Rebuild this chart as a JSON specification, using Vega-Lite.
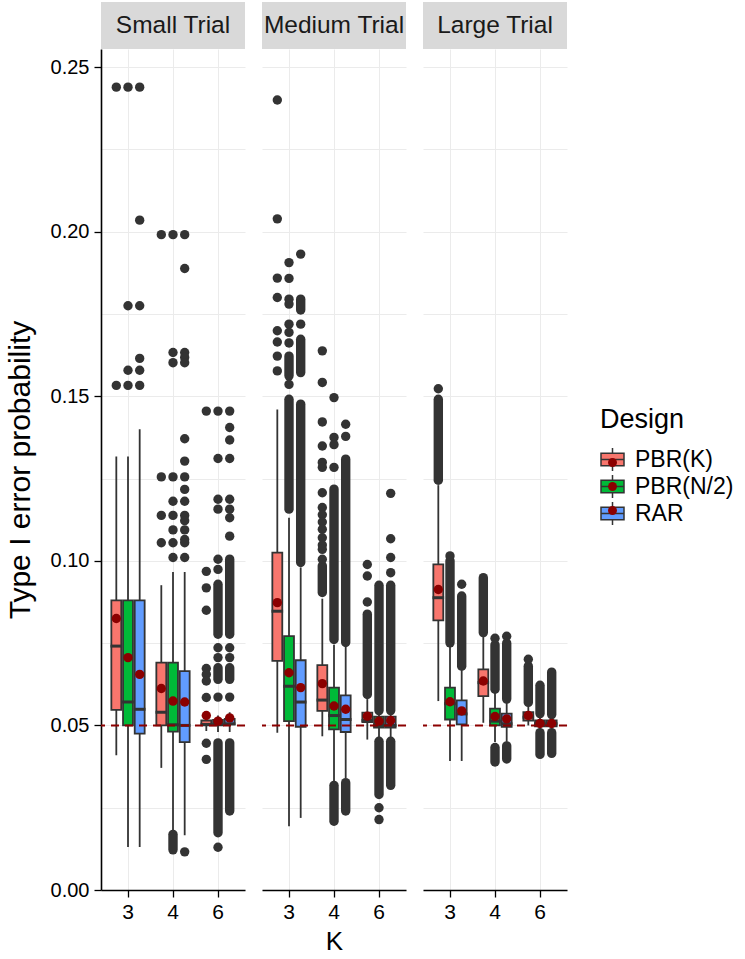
{
  "$schema": "https://vega.github.io/schema/vega-lite/v6.json",
  "background": "white",
  "padding": {"left": 5, "top": 2, "right": 2, "bottom": 2},
  "config": {
    "font": "Liberation Sans",
    "view": {"stroke": null},
    "axis": {"labelFont": "Liberation Sans", "titleFont": "Liberation Sans", "labelColor": "#000000", "titleColor": "#000000", "titleFontWeight": "normal", "gridColor": "#EBEBEB", "gridWidth": 1, "tickColor": "#000000", "domainColor": "#000000"},
    "legend": {"titleFont": "Liberation Sans", "labelFont": "Liberation Sans", "titleFontSize": 27, "titleFontWeight": "normal", "titleColor": "#000000", "labelFontSize": 23, "labelColor": "#000000", "symbolSize": 529, "symbolStrokeColor": "#333333", "symbolStrokeWidth": 1.5, "symbolOpacity": 1, "rowPadding": -4, "labelOffset": 10, "titlePadding": 13, "padding": 0}
  },
  "datasets": {
    "boxes": [
      {"trial": "Small Trial", "K": "3", "Design": "PBR(K)", "lw": 0.0409, "q1": 0.0547, "med": 0.0741, "q3": 0.088, "uw": 0.1317, "mean": 0.0825},
      {"trial": "Small Trial", "K": "3", "Design": "PBR(N/2)", "lw": 0.0131, "q1": 0.05, "med": 0.0571, "q3": 0.088, "uw": 0.1317, "mean": 0.0706},
      {"trial": "Small Trial", "K": "3", "Design": "RAR", "lw": 0.0131, "q1": 0.0475, "med": 0.0549, "q3": 0.088, "uw": 0.14, "mean": 0.0655},
      {"trial": "Small Trial", "K": "4", "Design": "PBR(K)", "lw": 0.0371, "q1": 0.05, "med": 0.054, "q3": 0.0691, "uw": 0.0926, "mean": 0.0612},
      {"trial": "Small Trial", "K": "4", "Design": "PBR(N/2)", "lw": 0.0174, "q1": 0.0481, "med": 0.0502, "q3": 0.0691, "uw": 0.0966, "mean": 0.0574},
      {"trial": "Small Trial", "K": "4", "Design": "RAR", "lw": 0.0166, "q1": 0.0449, "med": 0.05, "q3": 0.0665, "uw": 0.0966, "mean": 0.0571},
      {"trial": "Small Trial", "K": "6", "Design": "PBR(K)", "lw": 0.0483, "q1": 0.05, "med": 0.0503, "q3": 0.0515, "uw": 0.053, "mean": 0.053},
      {"trial": "Small Trial", "K": "6", "Design": "PBR(N/2)", "lw": 0.048, "q1": 0.05, "med": 0.0503, "q3": 0.0517, "uw": 0.053, "mean": 0.0513},
      {"trial": "Small Trial", "K": "6", "Design": "RAR", "lw": 0.048, "q1": 0.0503, "med": 0.0505, "q3": 0.052, "uw": 0.054, "mean": 0.0523},
      {"trial": "Medium Trial", "K": "3", "Design": "PBR(K)", "lw": 0.0478, "q1": 0.0696, "med": 0.0847, "q3": 0.1025, "uw": 0.146, "mean": 0.0873},
      {"trial": "Medium Trial", "K": "3", "Design": "PBR(N/2)", "lw": 0.0194, "q1": 0.0513, "med": 0.0619, "q3": 0.0771, "uw": 0.1131, "mean": 0.066},
      {"trial": "Medium Trial", "K": "3", "Design": "RAR", "lw": 0.0219, "q1": 0.0496, "med": 0.0571, "q3": 0.0698, "uw": 0.098, "mean": 0.0615},
      {"trial": "Medium Trial", "K": "4", "Design": "PBR(K)", "lw": 0.0467, "q1": 0.0544, "med": 0.0577, "q3": 0.0683, "uw": 0.0885, "mean": 0.0627},
      {"trial": "Medium Trial", "K": "4", "Design": "PBR(N/2)", "lw": 0.033, "q1": 0.0488, "med": 0.053, "q3": 0.0615, "uw": 0.0745, "mean": 0.0559},
      {"trial": "Medium Trial", "K": "4", "Design": "RAR", "lw": 0.034, "q1": 0.048, "med": 0.0518, "q3": 0.0591, "uw": 0.0745, "mean": 0.0549},
      {"trial": "Medium Trial", "K": "6", "Design": "PBR(K)", "lw": 0.0457, "q1": 0.051, "med": 0.0515, "q3": 0.0539, "uw": 0.058, "mean": 0.0528},
      {"trial": "Medium Trial", "K": "6", "Design": "PBR(N/2)", "lw": 0.046, "q1": 0.0493, "med": 0.05, "q3": 0.0527, "uw": 0.054, "mean": 0.0513},
      {"trial": "Medium Trial", "K": "6", "Design": "RAR", "lw": 0.046, "q1": 0.0493, "med": 0.05, "q3": 0.0527, "uw": 0.054, "mean": 0.0515},
      {"trial": "Large Trial", "K": "3", "Design": "PBR(K)", "lw": 0.0574, "q1": 0.0819, "med": 0.0888, "q3": 0.0989, "uw": 0.123, "mean": 0.0913},
      {"trial": "Large Trial", "K": "3", "Design": "PBR(N/2)", "lw": 0.0392, "q1": 0.0518, "med": 0.0566, "q3": 0.0615, "uw": 0.074, "mean": 0.0572},
      {"trial": "Large Trial", "K": "3", "Design": "RAR", "lw": 0.0392, "q1": 0.0503, "med": 0.0535, "q3": 0.0576, "uw": 0.067, "mean": 0.0544},
      {"trial": "Large Trial", "K": "4", "Design": "PBR(K)", "lw": 0.0508, "q1": 0.0589, "med": 0.063, "q3": 0.067, "uw": 0.0775, "mean": 0.0635},
      {"trial": "Large Trial", "K": "4", "Design": "PBR(N/2)", "lw": 0.045, "q1": 0.05, "med": 0.0513, "q3": 0.0551, "uw": 0.0605, "mean": 0.0527},
      {"trial": "Large Trial", "K": "4", "Design": "RAR", "lw": 0.045, "q1": 0.0496, "med": 0.0505, "q3": 0.0536, "uw": 0.0575, "mean": 0.052},
      {"trial": "Large Trial", "K": "6", "Design": "PBR(K)", "lw": 0.05, "q1": 0.0515, "med": 0.0525, "q3": 0.054, "uw": 0.0565, "mean": 0.053},
      {"trial": "Large Trial", "K": "6", "Design": "PBR(N/2)", "lw": 0.0485, "q1": 0.0497, "med": 0.0505, "q3": 0.0515, "uw": 0.053, "mean": 0.0506},
      {"trial": "Large Trial", "K": "6", "Design": "RAR", "lw": 0.0485, "q1": 0.0497, "med": 0.0505, "q3": 0.0515, "uw": 0.053, "mean": 0.0506}
    ],
    "outliers": [
      {"trial": "Small Trial", "K": "3", "Design": "PBR(K)", "value": 0.2439},
      {"trial": "Small Trial", "K": "3", "Design": "PBR(K)", "value": 0.1533},
      {"trial": "Small Trial", "K": "3", "Design": "PBR(N/2)", "value": 0.2439},
      {"trial": "Small Trial", "K": "3", "Design": "PBR(N/2)", "value": 0.1775},
      {"trial": "Small Trial", "K": "3", "Design": "PBR(N/2)", "value": 0.1579},
      {"trial": "Small Trial", "K": "3", "Design": "PBR(N/2)", "value": 0.1533},
      {"trial": "Small Trial", "K": "3", "Design": "RAR", "value": 0.2439},
      {"trial": "Small Trial", "K": "3", "Design": "RAR", "value": 0.2035},
      {"trial": "Small Trial", "K": "3", "Design": "RAR", "value": 0.1775},
      {"trial": "Small Trial", "K": "3", "Design": "RAR", "value": 0.1615},
      {"trial": "Small Trial", "K": "3", "Design": "RAR", "value": 0.1579},
      {"trial": "Small Trial", "K": "3", "Design": "RAR", "value": 0.1533},
      {"trial": "Small Trial", "K": "4", "Design": "PBR(K)", "value": 0.1991},
      {"trial": "Small Trial", "K": "4", "Design": "PBR(K)", "value": 0.1255},
      {"trial": "Small Trial", "K": "4", "Design": "PBR(K)", "value": 0.1138},
      {"trial": "Small Trial", "K": "4", "Design": "PBR(K)", "value": 0.1055},
      {"trial": "Small Trial", "K": "4", "Design": "PBR(N/2)", "value": 0.1991},
      {"trial": "Small Trial", "K": "4", "Design": "PBR(N/2)", "value": 0.1633},
      {"trial": "Small Trial", "K": "4", "Design": "PBR(N/2)", "value": 0.1602},
      {"trial": "Small Trial", "K": "4", "Design": "PBR(N/2)", "value": 0.1255},
      {"trial": "Small Trial", "K": "4", "Design": "PBR(N/2)", "value": 0.1181},
      {"trial": "Small Trial", "K": "4", "Design": "PBR(N/2)", "value": 0.1138},
      {"trial": "Small Trial", "K": "4", "Design": "PBR(N/2)", "value": 0.1094},
      {"trial": "Small Trial", "K": "4", "Design": "PBR(N/2)", "value": 0.1055},
      {"trial": "Small Trial", "K": "4", "Design": "PBR(N/2)", "value": 0.101},
      {"trial": "Small Trial", "K": "4", "Design": "RAR", "value": 0.1991},
      {"trial": "Small Trial", "K": "4", "Design": "RAR", "value": 0.1888},
      {"trial": "Small Trial", "K": "4", "Design": "RAR", "value": 0.1633},
      {"trial": "Small Trial", "K": "4", "Design": "RAR", "value": 0.1618},
      {"trial": "Small Trial", "K": "4", "Design": "RAR", "value": 0.1602},
      {"trial": "Small Trial", "K": "4", "Design": "RAR", "value": 0.1371},
      {"trial": "Small Trial", "K": "4", "Design": "RAR", "value": 0.1303},
      {"trial": "Small Trial", "K": "4", "Design": "RAR", "value": 0.1255},
      {"trial": "Small Trial", "K": "4", "Design": "RAR", "value": 0.1217},
      {"trial": "Small Trial", "K": "4", "Design": "RAR", "value": 0.1181},
      {"trial": "Small Trial", "K": "4", "Design": "RAR", "value": 0.1138},
      {"trial": "Small Trial", "K": "4", "Design": "RAR", "value": 0.1122},
      {"trial": "Small Trial", "K": "4", "Design": "RAR", "value": 0.1094},
      {"trial": "Small Trial", "K": "4", "Design": "RAR", "value": 0.1065},
      {"trial": "Small Trial", "K": "4", "Design": "RAR", "value": 0.1055},
      {"trial": "Small Trial", "K": "4", "Design": "RAR", "value": 0.101},
      {"trial": "Small Trial", "K": "4", "Design": "RAR", "value": 0.0116},
      {"trial": "Small Trial", "K": "6", "Design": "PBR(K)", "value": 0.1455},
      {"trial": "Small Trial", "K": "6", "Design": "PBR(K)", "value": 0.0968},
      {"trial": "Small Trial", "K": "6", "Design": "PBR(K)", "value": 0.0918},
      {"trial": "Small Trial", "K": "6", "Design": "PBR(K)", "value": 0.085},
      {"trial": "Small Trial", "K": "6", "Design": "PBR(K)", "value": 0.0673},
      {"trial": "Small Trial", "K": "6", "Design": "PBR(K)", "value": 0.0655},
      {"trial": "Small Trial", "K": "6", "Design": "PBR(K)", "value": 0.0635},
      {"trial": "Small Trial", "K": "6", "Design": "PBR(K)", "value": 0.0585},
      {"trial": "Small Trial", "K": "6", "Design": "PBR(K)", "value": 0.0446},
      {"trial": "Small Trial", "K": "6", "Design": "PBR(K)", "value": 0.0397},
      {"trial": "Small Trial", "K": "6", "Design": "PBR(N/2)", "value": 0.1455},
      {"trial": "Small Trial", "K": "6", "Design": "PBR(N/2)", "value": 0.1311},
      {"trial": "Small Trial", "K": "6", "Design": "PBR(N/2)", "value": 0.1187},
      {"trial": "Small Trial", "K": "6", "Design": "PBR(N/2)", "value": 0.1157},
      {"trial": "Small Trial", "K": "6", "Design": "PBR(N/2)", "value": 0.1005},
      {"trial": "Small Trial", "K": "6", "Design": "PBR(N/2)", "value": 0.0974},
      {"trial": "Small Trial", "K": "6", "Design": "PBR(N/2)", "value": 0.0736},
      {"trial": "Small Trial", "K": "6", "Design": "PBR(N/2)", "value": 0.0706},
      {"trial": "Small Trial", "K": "6", "Design": "PBR(N/2)", "value": 0.0586},
      {"trial": "Small Trial", "K": "6", "Design": "PBR(N/2)", "value": 0.013},
      {"trial": "Small Trial", "K": "6", "Design": "RAR", "value": 0.1455},
      {"trial": "Small Trial", "K": "6", "Design": "RAR", "value": 0.1405},
      {"trial": "Small Trial", "K": "6", "Design": "RAR", "value": 0.1367},
      {"trial": "Small Trial", "K": "6", "Design": "RAR", "value": 0.1311},
      {"trial": "Small Trial", "K": "6", "Design": "RAR", "value": 0.1187},
      {"trial": "Small Trial", "K": "6", "Design": "RAR", "value": 0.1157},
      {"trial": "Small Trial", "K": "6", "Design": "RAR", "value": 0.1131},
      {"trial": "Small Trial", "K": "6", "Design": "RAR", "value": 0.1075},
      {"trial": "Small Trial", "K": "6", "Design": "RAR", "value": 0.0736},
      {"trial": "Small Trial", "K": "6", "Design": "RAR", "value": 0.0706},
      {"trial": "Small Trial", "K": "6", "Design": "RAR", "value": 0.0586},
      {"trial": "Medium Trial", "K": "3", "Design": "PBR(K)", "value": 0.24},
      {"trial": "Medium Trial", "K": "3", "Design": "PBR(K)", "value": 0.2039},
      {"trial": "Medium Trial", "K": "3", "Design": "PBR(K)", "value": 0.1859},
      {"trial": "Medium Trial", "K": "3", "Design": "PBR(K)", "value": 0.18},
      {"trial": "Medium Trial", "K": "3", "Design": "PBR(K)", "value": 0.1699},
      {"trial": "Medium Trial", "K": "3", "Design": "PBR(K)", "value": 0.1665},
      {"trial": "Medium Trial", "K": "3", "Design": "PBR(K)", "value": 0.1622},
      {"trial": "Medium Trial", "K": "3", "Design": "PBR(K)", "value": 0.1577},
      {"trial": "Medium Trial", "K": "3", "Design": "PBR(N/2)", "value": 0.1906},
      {"trial": "Medium Trial", "K": "3", "Design": "PBR(N/2)", "value": 0.1858},
      {"trial": "Medium Trial", "K": "3", "Design": "PBR(N/2)", "value": 0.1795},
      {"trial": "Medium Trial", "K": "3", "Design": "PBR(N/2)", "value": 0.178},
      {"trial": "Medium Trial", "K": "3", "Design": "PBR(N/2)", "value": 0.1719},
      {"trial": "Medium Trial", "K": "3", "Design": "PBR(N/2)", "value": 0.1694},
      {"trial": "Medium Trial", "K": "3", "Design": "PBR(N/2)", "value": 0.1662},
      {"trial": "Medium Trial", "K": "3", "Design": "PBR(N/2)", "value": 0.1536},
      {"trial": "Medium Trial", "K": "3", "Design": "RAR", "value": 0.1932},
      {"trial": "Medium Trial", "K": "3", "Design": "RAR", "value": 0.1719},
      {"trial": "Medium Trial", "K": "4", "Design": "PBR(K)", "value": 0.1638},
      {"trial": "Medium Trial", "K": "4", "Design": "PBR(K)", "value": 0.1542},
      {"trial": "Medium Trial", "K": "4", "Design": "PBR(K)", "value": 0.1422},
      {"trial": "Medium Trial", "K": "4", "Design": "PBR(K)", "value": 0.1349},
      {"trial": "Medium Trial", "K": "4", "Design": "PBR(K)", "value": 0.1299},
      {"trial": "Medium Trial", "K": "4", "Design": "PBR(K)", "value": 0.1284},
      {"trial": "Medium Trial", "K": "4", "Design": "PBR(K)", "value": 0.1207},
      {"trial": "Medium Trial", "K": "4", "Design": "PBR(K)", "value": 0.1162},
      {"trial": "Medium Trial", "K": "4", "Design": "PBR(K)", "value": 0.114},
      {"trial": "Medium Trial", "K": "4", "Design": "PBR(K)", "value": 0.1118},
      {"trial": "Medium Trial", "K": "4", "Design": "PBR(K)", "value": 0.1096},
      {"trial": "Medium Trial", "K": "4", "Design": "PBR(K)", "value": 0.107},
      {"trial": "Medium Trial", "K": "4", "Design": "PBR(K)", "value": 0.1048},
      {"trial": "Medium Trial", "K": "4", "Design": "PBR(K)", "value": 0.1035},
      {"trial": "Medium Trial", "K": "4", "Design": "PBR(K)", "value": 0.1005},
      {"trial": "Medium Trial", "K": "4", "Design": "PBR(N/2)", "value": 0.1496},
      {"trial": "Medium Trial", "K": "4", "Design": "PBR(N/2)", "value": 0.1375},
      {"trial": "Medium Trial", "K": "4", "Design": "PBR(N/2)", "value": 0.1353},
      {"trial": "Medium Trial", "K": "4", "Design": "PBR(N/2)", "value": 0.1284},
      {"trial": "Medium Trial", "K": "4", "Design": "RAR", "value": 0.1415},
      {"trial": "Medium Trial", "K": "4", "Design": "RAR", "value": 0.1378},
      {"trial": "Medium Trial", "K": "6", "Design": "PBR(K)", "value": 0.0989},
      {"trial": "Medium Trial", "K": "6", "Design": "PBR(K)", "value": 0.0954},
      {"trial": "Medium Trial", "K": "6", "Design": "PBR(K)", "value": 0.0875},
      {"trial": "Medium Trial", "K": "6", "Design": "PBR(N/2)", "value": 0.025},
      {"trial": "Medium Trial", "K": "6", "Design": "PBR(N/2)", "value": 0.0214},
      {"trial": "Medium Trial", "K": "6", "Design": "RAR", "value": 0.1205},
      {"trial": "Medium Trial", "K": "6", "Design": "RAR", "value": 0.1067},
      {"trial": "Medium Trial", "K": "6", "Design": "RAR", "value": 0.101},
      {"trial": "Medium Trial", "K": "6", "Design": "RAR", "value": 0.0964},
      {"trial": "Large Trial", "K": "3", "Design": "PBR(K)", "value": 0.1523},
      {"trial": "Large Trial", "K": "3", "Design": "PBR(N/2)", "value": 0.1015},
      {"trial": "Large Trial", "K": "3", "Design": "RAR", "value": 0.0929},
      {"trial": "Large Trial", "K": "4", "Design": "PBR(N/2)", "value": 0.0765},
      {"trial": "Large Trial", "K": "4", "Design": "RAR", "value": 0.0771},
      {"trial": "Large Trial", "K": "6", "Design": "PBR(K)", "value": 0.0701}
    ],
    "runs": [
      {"trial": "Small Trial", "K": "4", "Design": "PBR(N/2)", "lo": 0.0122, "hi": 0.0169},
      {"trial": "Small Trial", "K": "6", "Design": "PBR(N/2)", "lo": 0.0777, "hi": 0.0929},
      {"trial": "Small Trial", "K": "6", "Design": "PBR(N/2)", "lo": 0.064, "hi": 0.0675},
      {"trial": "Small Trial", "K": "6", "Design": "PBR(N/2)", "lo": 0.0174, "hi": 0.0447},
      {"trial": "Small Trial", "K": "6", "Design": "RAR", "lo": 0.0777, "hi": 0.1005},
      {"trial": "Small Trial", "K": "6", "Design": "RAR", "lo": 0.064, "hi": 0.0675},
      {"trial": "Small Trial", "K": "6", "Design": "RAR", "lo": 0.024, "hi": 0.0447},
      {"trial": "Medium Trial", "K": "3", "Design": "PBR(N/2)", "lo": 0.1562, "hi": 0.1622},
      {"trial": "Medium Trial", "K": "3", "Design": "PBR(N/2)", "lo": 0.1157, "hi": 0.1491},
      {"trial": "Medium Trial", "K": "3", "Design": "RAR", "lo": 0.1762, "hi": 0.1795},
      {"trial": "Medium Trial", "K": "3", "Design": "RAR", "lo": 0.1572, "hi": 0.1673},
      {"trial": "Medium Trial", "K": "3", "Design": "RAR", "lo": 0.0995, "hi": 0.1476},
      {"trial": "Medium Trial", "K": "4", "Design": "PBR(K)", "lo": 0.0904, "hi": 0.0985},
      {"trial": "Medium Trial", "K": "4", "Design": "PBR(N/2)", "lo": 0.0761, "hi": 0.1218},
      {"trial": "Medium Trial", "K": "4", "Design": "PBR(N/2)", "lo": 0.0209, "hi": 0.0318},
      {"trial": "Medium Trial", "K": "4", "Design": "RAR", "lo": 0.0752, "hi": 0.1309},
      {"trial": "Medium Trial", "K": "4", "Design": "RAR", "lo": 0.024, "hi": 0.0326},
      {"trial": "Medium Trial", "K": "6", "Design": "PBR(K)", "lo": 0.0594, "hi": 0.0838},
      {"trial": "Medium Trial", "K": "6", "Design": "PBR(N/2)", "lo": 0.0545, "hi": 0.0926},
      {"trial": "Medium Trial", "K": "6", "Design": "PBR(N/2)", "lo": 0.029, "hi": 0.0452},
      {"trial": "Medium Trial", "K": "6", "Design": "RAR", "lo": 0.0545, "hi": 0.0926},
      {"trial": "Medium Trial", "K": "6", "Design": "RAR", "lo": 0.0318, "hi": 0.0452},
      {"trial": "Large Trial", "K": "3", "Design": "PBR(K)", "lo": 0.1245, "hi": 0.1491},
      {"trial": "Large Trial", "K": "3", "Design": "PBR(N/2)", "lo": 0.0751, "hi": 0.1},
      {"trial": "Large Trial", "K": "3", "Design": "RAR", "lo": 0.068, "hi": 0.0893},
      {"trial": "Large Trial", "K": "4", "Design": "PBR(K)", "lo": 0.0782, "hi": 0.0949},
      {"trial": "Large Trial", "K": "4", "Design": "PBR(N/2)", "lo": 0.061, "hi": 0.0745},
      {"trial": "Large Trial", "K": "4", "Design": "PBR(N/2)", "lo": 0.0389, "hi": 0.0433},
      {"trial": "Large Trial", "K": "4", "Design": "RAR", "lo": 0.058, "hi": 0.075},
      {"trial": "Large Trial", "K": "4", "Design": "RAR", "lo": 0.0398, "hi": 0.0438},
      {"trial": "Large Trial", "K": "6", "Design": "PBR(K)", "lo": 0.057, "hi": 0.068},
      {"trial": "Large Trial", "K": "6", "Design": "PBR(N/2)", "lo": 0.0536, "hi": 0.0622},
      {"trial": "Large Trial", "K": "6", "Design": "PBR(N/2)", "lo": 0.0412, "hi": 0.0478},
      {"trial": "Large Trial", "K": "6", "Design": "RAR", "lo": 0.0533, "hi": 0.0662},
      {"trial": "Large Trial", "K": "6", "Design": "RAR", "lo": 0.0415, "hi": 0.0478}
    ]
  },
  "spacing": 15,
  "hconcat": [
    {
      "spacing": 0,
      "vconcat": [
        {"width": 144, "height": 47, "view": {"fill": "#D9D9D9", "stroke": null}, "data": {"values": [{"trial": "Small Trial"}]}, "mark": {"type": "text", "fontSize": 24.5, "color": "#1A1A1A", "font": "Liberation Sans"}, "encoding": {"text": {"field": "trial"}}},
        {
          "width": 144, "height": 841,
          "layer": [
            {"data": {"name": "boxes"}, "transform": [{"filter": "datum.trial=='Small Trial'"}], "mark": {"type": "rule", "color": "#333333", "strokeWidth": 1.8},
             "encoding": {"x": {"field": "K", "type": "ordinal", "scale": {"domain": ["3", "4", "6"], "paddingInner": 0, "paddingOuter": 0.1}, "axis": {"title": null, "labelFontSize": 21, "labelAngle": 0, "labelPadding": 4, "tickSize": 7, "tickWidth": 1.3, "domainWidth": 1.6, "grid": true, "bandPosition": 0.5}},
              "xOffset": {"field": "Design", "type": "nominal", "scale": {"domain": ["PBR(K)", "PBR(N/2)", "RAR"], "paddingInner": 0.15, "paddingOuter": 0.5}},
              "y": {"field": "lw", "type": "quantitative", "scale": {"domain": [0, 0.2555], "nice": false, "zero": false},
                "axis": {"values": [0, 0.025, 0.05, 0.075, 0.1, 0.125, 0.15, 0.175, 0.2, 0.225, 0.25], "title": "Type I error probability", "titleFontSize": 30, "titlePadding": 15, "labelFontSize": 20, "labelPadding": 5, "labelExpr": "round(datum.value*40)%2==1 ? '' : format(datum.value,'.2f')", "tickSize": 7, "tickWidth": 1.3, "tickOpacity": {"condition": {"test": "round(datum.value*40)%2==1", "value": 0}, "value": 1}, "domainWidth": 1.6, "grid": true}},
              "y2": {"field": "uw"}}},
            {"data": {"name": "runs"}, "transform": [{"filter": "datum.trial=='Small Trial'"}], "mark": {"type": "rule", "color": "#333333", "strokeWidth": 9.4, "strokeCap": "round"},
             "encoding": {"x": {"field": "K", "type": "ordinal", "scale": {"domain": ["3", "4", "6"], "paddingInner": 0, "paddingOuter": 0.1}}, "xOffset": {"field": "Design", "type": "nominal", "scale": {"domain": ["PBR(K)", "PBR(N/2)", "RAR"], "paddingInner": 0.15, "paddingOuter": 0.5}}, "y": {"field": "lo", "type": "quantitative"}, "y2": {"field": "hi"}}},
            {"data": {"name": "outliers"}, "transform": [{"filter": "datum.trial=='Small Trial'"}], "mark": {"type": "circle", "color": "#333333", "size": 88, "opacity": 1},
             "encoding": {"x": {"field": "K", "type": "ordinal", "scale": {"domain": ["3", "4", "6"], "paddingInner": 0, "paddingOuter": 0.1}}, "xOffset": {"field": "Design", "type": "nominal", "scale": {"domain": ["PBR(K)", "PBR(N/2)", "RAR"], "paddingInner": 0.15, "paddingOuter": 0.5}}, "y": {"field": "value", "type": "quantitative"}}},
            {"data": {"name": "boxes"}, "transform": [{"filter": "datum.trial=='Small Trial'"}], "mark": {"type": "bar", "stroke": "#333333", "strokeWidth": 1.8},
             "encoding": {"x": {"field": "K", "type": "ordinal", "scale": {"domain": ["3", "4", "6"], "paddingInner": 0, "paddingOuter": 0.1}}, "xOffset": {"field": "Design", "type": "nominal", "scale": {"domain": ["PBR(K)", "PBR(N/2)", "RAR"], "paddingInner": 0.15, "paddingOuter": 0.5}}, "y": {"field": "q1", "type": "quantitative"}, "y2": {"field": "q3"},
              "fill": {"field": "Design", "type": "nominal", "scale": {"domain": ["PBR(K)", "PBR(N/2)", "RAR"], "range": ["#F8766D", "#00BA38", "#619CFF"]}, "legend": {"title": "Design", "orient": "none", "legendX": 499, "legendY": 405, "symbolType": "M-1,-0.55H1V0.55H-1Z M0,-1V-0.55 M0,0.55V1 M-1,0H1"}}}},
            {"data": {"name": "boxes"}, "transform": [{"filter": "datum.trial=='Small Trial'"}], "mark": {"type": "tick", "orient": "horizontal", "color": "#333333", "thickness": 3, "size": 11.6, "opacity": 1},
             "encoding": {"x": {"field": "K", "type": "ordinal", "scale": {"domain": ["3", "4", "6"], "paddingInner": 0, "paddingOuter": 0.1}}, "xOffset": {"field": "Design", "type": "nominal", "scale": {"domain": ["PBR(K)", "PBR(N/2)", "RAR"], "paddingInner": 0.15, "paddingOuter": 0.5}}, "y": {"field": "med", "type": "quantitative"}}},
            {"data": {"values": [{}]}, "mark": {"type": "rule", "color": "#8B0000", "strokeWidth": 2, "strokeDash": [8, 6]}, "encoding": {"y": {"datum": 0.05, "type": "quantitative"}}},
            {"data": {"name": "boxes"}, "transform": [{"filter": "datum.trial=='Small Trial'"}], "mark": {"type": "circle", "color": "#8B0000", "size": 88, "opacity": 1, "strokeWidth": 0},
             "encoding": {"x": {"field": "K", "type": "ordinal", "scale": {"domain": ["3", "4", "6"], "paddingInner": 0, "paddingOuter": 0.1}}, "xOffset": {"field": "Design", "type": "nominal", "scale": {"domain": ["PBR(K)", "PBR(N/2)", "RAR"], "paddingInner": 0.15, "paddingOuter": 0.5}}, "y": {"field": "mean", "type": "quantitative"},
              "stroke": {"field": "Design", "type": "nominal", "scale": {"range": ["#8B0000", "#8B0000", "#8B0000"]}, "legend": {"title": " ", "labelExpr": "' '", "orient": "none", "legendX": 500, "legendY": 409, "symbolType": "circle", "symbolSize": 80, "symbolFillColor": "#8B0000", "symbolStrokeColor": "#8B0000", "symbolStrokeWidth": 0}}}}
          ]
        }
      ]
    },
    {
      "spacing": 0,
      "vconcat": [
        {"width": 144, "height": 47, "view": {"fill": "#D9D9D9", "stroke": null}, "data": {"values": [{"trial": "Medium Trial"}]}, "mark": {"type": "text", "fontSize": 24.5, "color": "#1A1A1A", "font": "Liberation Sans"}, "encoding": {"text": {"field": "trial"}}},
        {
          "width": 144, "height": 841,
          "layer": [
            {"data": {"name": "boxes"}, "transform": [{"filter": "datum.trial=='Medium Trial'"}], "mark": {"type": "rule", "color": "#333333", "strokeWidth": 1.8},
             "encoding": {"x": {"field": "K", "type": "ordinal", "scale": {"domain": ["3", "4", "6"], "paddingInner": 0, "paddingOuter": 0.1}, "axis": {"title": "K", "titleFontSize": 26, "titlePadding": 6, "labelFontSize": 21, "labelAngle": 0, "labelPadding": 4, "tickSize": 7, "tickWidth": 1.3, "domainWidth": 1.6, "grid": true, "bandPosition": 0.5}},
              "xOffset": {"field": "Design", "type": "nominal", "scale": {"domain": ["PBR(K)", "PBR(N/2)", "RAR"], "paddingInner": 0.15, "paddingOuter": 0.5}},
              "y": {"field": "lw", "type": "quantitative", "scale": {"domain": [0, 0.2555], "nice": false, "zero": false},
                "axis": {"values": [0, 0.025, 0.05, 0.075, 0.1, 0.125, 0.15, 0.175, 0.2, 0.225, 0.25], "title": null, "labels": false, "ticks": false, "domain": false, "grid": true}},
              "y2": {"field": "uw"}}},
            {"data": {"name": "runs"}, "transform": [{"filter": "datum.trial=='Medium Trial'"}], "mark": {"type": "rule", "color": "#333333", "strokeWidth": 9.4, "strokeCap": "round"},
             "encoding": {"x": {"field": "K", "type": "ordinal", "scale": {"domain": ["3", "4", "6"], "paddingInner": 0, "paddingOuter": 0.1}}, "xOffset": {"field": "Design", "type": "nominal", "scale": {"domain": ["PBR(K)", "PBR(N/2)", "RAR"], "paddingInner": 0.15, "paddingOuter": 0.5}}, "y": {"field": "lo", "type": "quantitative"}, "y2": {"field": "hi"}}},
            {"data": {"name": "outliers"}, "transform": [{"filter": "datum.trial=='Medium Trial'"}], "mark": {"type": "circle", "color": "#333333", "size": 88, "opacity": 1},
             "encoding": {"x": {"field": "K", "type": "ordinal", "scale": {"domain": ["3", "4", "6"], "paddingInner": 0, "paddingOuter": 0.1}}, "xOffset": {"field": "Design", "type": "nominal", "scale": {"domain": ["PBR(K)", "PBR(N/2)", "RAR"], "paddingInner": 0.15, "paddingOuter": 0.5}}, "y": {"field": "value", "type": "quantitative"}}},
            {"data": {"name": "boxes"}, "transform": [{"filter": "datum.trial=='Medium Trial'"}], "mark": {"type": "bar", "stroke": "#333333", "strokeWidth": 1.8},
             "encoding": {"x": {"field": "K", "type": "ordinal", "scale": {"domain": ["3", "4", "6"], "paddingInner": 0, "paddingOuter": 0.1}}, "xOffset": {"field": "Design", "type": "nominal", "scale": {"domain": ["PBR(K)", "PBR(N/2)", "RAR"], "paddingInner": 0.15, "paddingOuter": 0.5}}, "y": {"field": "q1", "type": "quantitative"}, "y2": {"field": "q3"},
              "fill": {"field": "Design", "type": "nominal", "scale": {"domain": ["PBR(K)", "PBR(N/2)", "RAR"], "range": ["#F8766D", "#00BA38", "#619CFF"]}, "legend": {"title": "Design", "orient": "none", "legendX": 499, "legendY": 405, "symbolType": "M-1,-0.55H1V0.55H-1Z M0,-1V-0.55 M0,0.55V1 M-1,0H1"}}}},
            {"data": {"name": "boxes"}, "transform": [{"filter": "datum.trial=='Medium Trial'"}], "mark": {"type": "tick", "orient": "horizontal", "color": "#333333", "thickness": 3, "size": 11.6, "opacity": 1},
             "encoding": {"x": {"field": "K", "type": "ordinal", "scale": {"domain": ["3", "4", "6"], "paddingInner": 0, "paddingOuter": 0.1}}, "xOffset": {"field": "Design", "type": "nominal", "scale": {"domain": ["PBR(K)", "PBR(N/2)", "RAR"], "paddingInner": 0.15, "paddingOuter": 0.5}}, "y": {"field": "med", "type": "quantitative"}}},
            {"data": {"values": [{}]}, "mark": {"type": "rule", "color": "#8B0000", "strokeWidth": 2, "strokeDash": [8, 6]}, "encoding": {"y": {"datum": 0.05, "type": "quantitative"}}},
            {"data": {"name": "boxes"}, "transform": [{"filter": "datum.trial=='Medium Trial'"}], "mark": {"type": "circle", "color": "#8B0000", "size": 88, "opacity": 1, "strokeWidth": 0},
             "encoding": {"x": {"field": "K", "type": "ordinal", "scale": {"domain": ["3", "4", "6"], "paddingInner": 0, "paddingOuter": 0.1}}, "xOffset": {"field": "Design", "type": "nominal", "scale": {"domain": ["PBR(K)", "PBR(N/2)", "RAR"], "paddingInner": 0.15, "paddingOuter": 0.5}}, "y": {"field": "mean", "type": "quantitative"},
              "stroke": {"field": "Design", "type": "nominal", "scale": {"range": ["#8B0000", "#8B0000", "#8B0000"]}, "legend": {"title": " ", "labelExpr": "' '", "orient": "none", "legendX": 500, "legendY": 409, "symbolType": "circle", "symbolSize": 80, "symbolFillColor": "#8B0000", "symbolStrokeColor": "#8B0000", "symbolStrokeWidth": 0}}}}
          ]
        }
      ]
    },
    {
      "spacing": 0,
      "vconcat": [
        {"width": 144, "height": 47, "view": {"fill": "#D9D9D9", "stroke": null}, "data": {"values": [{"trial": "Large Trial"}]}, "mark": {"type": "text", "fontSize": 24.5, "color": "#1A1A1A", "font": "Liberation Sans"}, "encoding": {"text": {"field": "trial"}}},
        {
          "width": 144, "height": 841,
          "layer": [
            {"data": {"name": "boxes"}, "transform": [{"filter": "datum.trial=='Large Trial'"}], "mark": {"type": "rule", "color": "#333333", "strokeWidth": 1.8},
             "encoding": {"x": {"field": "K", "type": "ordinal", "scale": {"domain": ["3", "4", "6"], "paddingInner": 0, "paddingOuter": 0.1}, "axis": {"title": null, "labelFontSize": 21, "labelAngle": 0, "labelPadding": 4, "tickSize": 7, "tickWidth": 1.3, "domainWidth": 1.6, "grid": true, "bandPosition": 0.5}},
              "xOffset": {"field": "Design", "type": "nominal", "scale": {"domain": ["PBR(K)", "PBR(N/2)", "RAR"], "paddingInner": 0.15, "paddingOuter": 0.5}},
              "y": {"field": "lw", "type": "quantitative", "scale": {"domain": [0, 0.2555], "nice": false, "zero": false},
                "axis": {"values": [0, 0.025, 0.05, 0.075, 0.1, 0.125, 0.15, 0.175, 0.2, 0.225, 0.25], "title": null, "labels": false, "ticks": false, "domain": false, "grid": true}},
              "y2": {"field": "uw"}}},
            {"data": {"name": "runs"}, "transform": [{"filter": "datum.trial=='Large Trial'"}], "mark": {"type": "rule", "color": "#333333", "strokeWidth": 9.4, "strokeCap": "round"},
             "encoding": {"x": {"field": "K", "type": "ordinal", "scale": {"domain": ["3", "4", "6"], "paddingInner": 0, "paddingOuter": 0.1}}, "xOffset": {"field": "Design", "type": "nominal", "scale": {"domain": ["PBR(K)", "PBR(N/2)", "RAR"], "paddingInner": 0.15, "paddingOuter": 0.5}}, "y": {"field": "lo", "type": "quantitative"}, "y2": {"field": "hi"}}},
            {"data": {"name": "outliers"}, "transform": [{"filter": "datum.trial=='Large Trial'"}], "mark": {"type": "circle", "color": "#333333", "size": 88, "opacity": 1},
             "encoding": {"x": {"field": "K", "type": "ordinal", "scale": {"domain": ["3", "4", "6"], "paddingInner": 0, "paddingOuter": 0.1}}, "xOffset": {"field": "Design", "type": "nominal", "scale": {"domain": ["PBR(K)", "PBR(N/2)", "RAR"], "paddingInner": 0.15, "paddingOuter": 0.5}}, "y": {"field": "value", "type": "quantitative"}}},
            {"data": {"name": "boxes"}, "transform": [{"filter": "datum.trial=='Large Trial'"}], "mark": {"type": "bar", "stroke": "#333333", "strokeWidth": 1.8},
             "encoding": {"x": {"field": "K", "type": "ordinal", "scale": {"domain": ["3", "4", "6"], "paddingInner": 0, "paddingOuter": 0.1}}, "xOffset": {"field": "Design", "type": "nominal", "scale": {"domain": ["PBR(K)", "PBR(N/2)", "RAR"], "paddingInner": 0.15, "paddingOuter": 0.5}}, "y": {"field": "q1", "type": "quantitative"}, "y2": {"field": "q3"},
              "fill": {"field": "Design", "type": "nominal", "scale": {"domain": ["PBR(K)", "PBR(N/2)", "RAR"], "range": ["#F8766D", "#00BA38", "#619CFF"]}, "legend": {"title": "Design", "orient": "none", "legendX": 499, "legendY": 405, "symbolType": "M-1,-0.55H1V0.55H-1Z M0,-1V-0.55 M0,0.55V1 M-1,0H1"}}}},
            {"data": {"name": "boxes"}, "transform": [{"filter": "datum.trial=='Large Trial'"}], "mark": {"type": "tick", "orient": "horizontal", "color": "#333333", "thickness": 3, "size": 11.6, "opacity": 1},
             "encoding": {"x": {"field": "K", "type": "ordinal", "scale": {"domain": ["3", "4", "6"], "paddingInner": 0, "paddingOuter": 0.1}}, "xOffset": {"field": "Design", "type": "nominal", "scale": {"domain": ["PBR(K)", "PBR(N/2)", "RAR"], "paddingInner": 0.15, "paddingOuter": 0.5}}, "y": {"field": "med", "type": "quantitative"}}},
            {"data": {"values": [{}]}, "mark": {"type": "rule", "color": "#8B0000", "strokeWidth": 2, "strokeDash": [8, 6]}, "encoding": {"y": {"datum": 0.05, "type": "quantitative"}}},
            {"data": {"name": "boxes"}, "transform": [{"filter": "datum.trial=='Large Trial'"}], "mark": {"type": "circle", "color": "#8B0000", "size": 88, "opacity": 1, "strokeWidth": 0},
             "encoding": {"x": {"field": "K", "type": "ordinal", "scale": {"domain": ["3", "4", "6"], "paddingInner": 0, "paddingOuter": 0.1}}, "xOffset": {"field": "Design", "type": "nominal", "scale": {"domain": ["PBR(K)", "PBR(N/2)", "RAR"], "paddingInner": 0.15, "paddingOuter": 0.5}}, "y": {"field": "mean", "type": "quantitative"},
              "stroke": {"field": "Design", "type": "nominal", "scale": {"range": ["#8B0000", "#8B0000", "#8B0000"]}, "legend": {"title": " ", "labelExpr": "' '", "orient": "none", "legendX": 500, "legendY": 409, "symbolType": "circle", "symbolSize": 80, "symbolFillColor": "#8B0000", "symbolStrokeColor": "#8B0000", "symbolStrokeWidth": 0}}}}
          ]
        }
      ]
    }
  ]
}
